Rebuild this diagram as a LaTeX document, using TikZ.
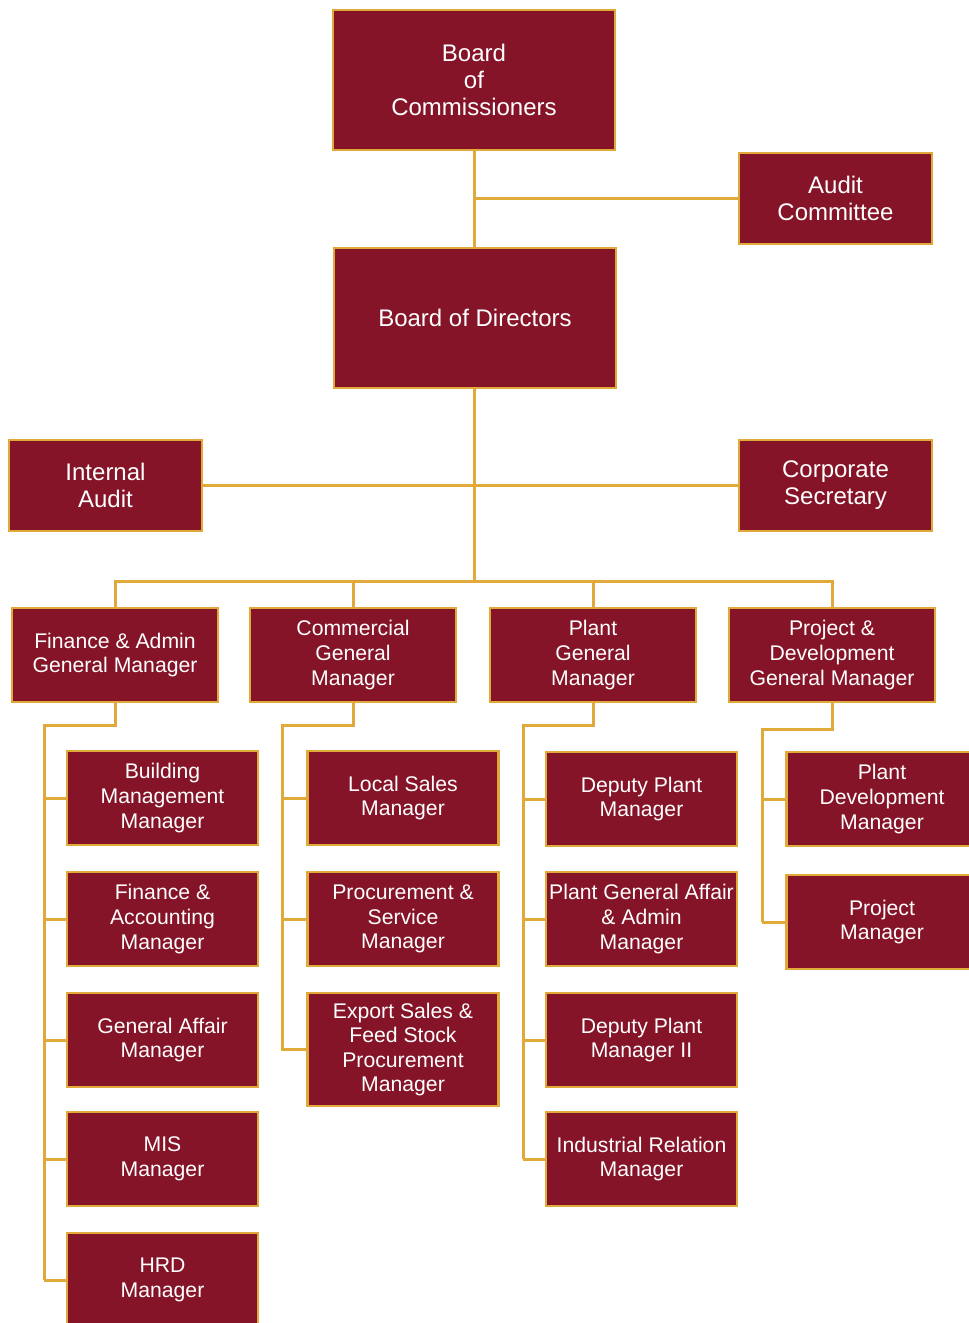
\documentclass[tikz,border=0pt]{standalone}
\usepackage{fontspec}
\setmainfont{Liberation Sans}
\usepackage{tikz}
\usetikzlibrary{positioning, calc}
\definecolor{maroon}{RGB}{133,20,40}
\definecolor{gold}{RGB}{224,169,58}

\begin{document}
\begin{tikzpicture}[x=0.5pt, y=-0.5pt,
  box/.style={draw=gold, fill=maroon, line width=1.2pt, text=white, align=center, inner sep=1pt,
    font=\fontsize{10.6}{12.3}\selectfont, minimum width=95.5pt, minimum height=47pt},
  gmbox/.style={box, minimum width=103pt},
  topbox/.style={box, font=\fontsize{12}{13.5}\selectfont, minimum width=141pt, minimum height=70pt},
  sidebox/.style={topbox, minimum width=96.5pt, minimum height=45.5pt},
  link/.style={gold, line width=1.5pt}]
\useasboundingbox (0,0) rectangle (969,1323);
\clip (0,0) rectangle (969,1323);

% Boards
\node[topbox] (boc) at (474,80) {Board\\of\\Commissioners};
\node[sidebox] (audit) at (835.5,198.5) {Audit\\Committee};
\node[topbox] (bod) at (475,318) {Board of Directors};
\node[sidebox] (intaudit) at (105.5,485.5) {Internal\\Audit};
\node[sidebox] (corpsec) at (835.5,485.5) {Corporate\\Secretary};

\draw[link] (boc.south) -- (boc.south |- bod.north);
\draw[link] (boc.south |- audit.west) -- (audit.west);
\draw[link] (intaudit.east) -- (corpsec.west);

% General managers
\coordinate (bus) at (474,581);
\node[gmbox] (fin) at (115,655) {Finance \& Admin\\General Manager};
\node[gmbox] (com) at (353,655) {Commercial\\General\\Manager};
\node[gmbox] (plant) at (593,655) {Plant\\General\\Manager};
\node[gmbox] (proj) at (832,655) {Project \&\\Development\\General Manager};

\draw[link] (boc.south |- bod.south) -- (bus);
\foreach \g in {fin,com,plant,proj} {
    \draw[link] (\g.north) |- (bus);
}

% Finance & Admin
\coordinate (finbr) at (44,725);
\foreach \y/\n/\t in {798/bldg/{Building\\Management\\Manager}, 919/finacc/{Finance \&\\Accounting\\Manager},
    1040/genaff/{General Affair\\Manager}, 1159/mis/{MIS\\Manager}, 1280/hrd/{HRD\\Manager}} {
    \node[box] (\n) at (162.5,\y) {\t};
    \draw[link] (finbr |- \n.west) -- (\n.west);
}
\draw[link] (fin.south) |- (finbr) -- (finbr |- hrd.west);

% Commercial
\coordinate (combr) at (282,725);
\foreach \y/\n/\t in {798/local/{Local Sales\\Manager}, 919/procure/{Procurement \&\\Service\\Manager}} {
    \node[box] (\n) at (403,\y) {\t};
    \draw[link] (combr |- \n.west) -- (\n.west);
}
\node[box, minimum height=56.5pt] (export) at (403,1049.5) {Export Sales \&\\Feed Stock\\Procurement\\Manager};
\draw[link] (com.south) |- (combr) -- (combr |- export.west) -- (export.west);

% Plant
\coordinate (plantbr) at (523,725);
\foreach \y/\n/\t in {799/deputy/{Deputy Plant\\Manager}, 919/pgaa/{Plant General Affair\\\& Admin\\Manager},
    1040/deputytwo/{Deputy Plant\\Manager II}, 1159/indrel/{Industrial Relation\\Manager}} {
    \node[box] (\n) at (641.5,\y) {\t};
    \draw[link] (plantbr |- \n.west) -- (\n.west);
}
\draw[link] (plant.south) |- (plantbr) -- (plantbr |- indrel.west);

% Project & Development
\coordinate (projbr) at (762,729);
\foreach \y/\n/\t in {799/plantdev/{Plant\\Development\\Manager}, 922/projmgr/{Project\\Manager}} {
    \node[box] (\n) at (882,\y) {\t};
    \draw[link] (projbr |- \n.west) -- (\n.west);
}
\draw[link] (proj.south) |- (projbr) -- (projbr |- projmgr.west);
\end{tikzpicture}
\end{document}
